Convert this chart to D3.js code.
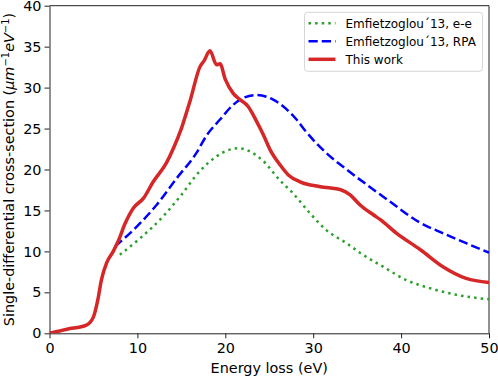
<!DOCTYPE html>
<html lang="en">

<head>
    <meta charset="UTF-8">
    <title>cross-section</title>
    <script src="https://cdn.jsdelivr.net/npm/d3@7"></script>
    <style>
        body {
            margin: 0;
            background: #fff;
        }

        text {
            font-family: "DejaVu Sans", sans-serif;
            fill: #000;
        }

        .tick text {
            font-size: 14.4px;
        }

        .domain,
        .tick line {
            stroke: #222;
        }
    </style>
</head>

<body>
    <div id="chart"></div>
</body>

<script>
    // Emfietzoglou'13, e-e (green dotted)
    let eeX = [8.0, 10.3, 12.95, 14.85, 17.1, 19.0, 20.2, 21.5, 22.6, 24.25, 26.2, 27.7, 29.6, 31.5, 33.8, 35.5, 38.0, 40.6, 43.3, 46.3, 50];
    let eeY = [9.6, 11.6, 14.3, 16.7, 19.8, 21.6, 22.3, 22.6, 22.3, 21.1, 18.7, 17.1, 14.7, 12.6, 11.0, 9.7, 8.1, 6.5, 5.5, 4.7, 4.15];

    // Emfietzoglou'13, RPA (blue dashed)
    let rpaX = [7.45, 9.9, 12.2, 14.45, 16.7, 17.9, 19.4, 20.9, 22.2, 23.6, 25.5, 28.1, 29.2, 31.5, 33.8, 36.4, 38.7, 42.0, 44.8, 47.4, 50];
    let rpaY = [10.6, 13.0, 15.7, 18.9, 22.0, 24.2, 26.1, 27.9, 28.8, 29.1, 28.5, 26.1, 24.6, 22.0, 20.0, 17.9, 16.1, 13.6, 12.2, 11.0, 9.85];

    // This work (red)
    let workX = [0, 2, 4.2, 5.0, 5.5, 5.9, 6.5, 7.25, 7.8, 8.6, 9.55, 10.7, 11.8, 13.3, 14.1, 15.0, 16.0, 17.1, 17.6, 18.25, 19.0, 19.4, 20.0, 20.9, 21.6, 22.6, 23.5, 24.3, 25.1, 26.2, 27.2, 28.5, 30.8, 33.2, 34.2, 35.3, 36.8, 37.6, 39.5, 42.2, 44.8, 47.4, 50];
    let workY = [0, 0.5, 1.0, 2.0, 4.1, 6.5, 8.6, 10, 11.2, 13.4, 15.3, 16.5, 18.5, 20.8, 22.6, 25.0, 28.4, 32.5, 33.3, 34.5, 32.8, 32.9, 31.0, 29.3, 28.6, 27.7, 26.0, 24.3, 22.4, 20.6, 19.3, 18.5, 17.9, 17.5, 16.9, 15.7, 14.5, 13.9, 12.2, 10.2, 8.1, 6.7, 6.2];

    let xTicks = [0, 10, 20, 30, 40, 50];
    let yTicks = [0, 5, 10, 15, 20, 25, 30, 35, 40];

    let legendLabels = ["Emfietzoglou\u00b413, e-e", "Emfietzoglou\u00b413, RPA", "This work"];

    let draw = () => {
        let svg = d3.select("#chart").append("svg")
            .attr("width", 498)
            .attr("height", 377);

        // 畫布邊界
        let padding = { top: 5.7, left: 49.5, bottom: 43.7, right: 9 };
        let width = 498 - padding.left - padding.right;
        let height = 377 - padding.top - padding.bottom;

        let focus = svg.append("g")
            .attr("transform", "translate(" + padding.left + "," + padding.top + ")");

        focus.append("defs").append("clipPath")
            .attr("id", "clip")
            .append("rect")
            .attr("width", width)
            .attr("height", height);

        let x = d3.scaleLinear().domain([0, 50]).range([0, width]);
        let y = d3.scaleLinear().domain([0, 40]).range([height, 0]);

        // axes
        focus.append("g")
            .attr("transform", "translate(0," + height + ")")
            .call(d3.axisBottom(x).tickValues(xTicks).tickSize(5).tickPadding(4).tickSizeOuter(0));
        focus.append("g")
            .call(d3.axisLeft(y).tickValues(yTicks).tickSize(5).tickPadding(3).tickSizeOuter(0));
        // top / right frame
        focus.append("path")
            .attr("d", "M0,0H" + width + "V" + height)
            .attr("fill", "none")
            .attr("stroke", "#222");

        // lines
        let toPts = (xs, ys) => xs.map((d, i) => [d, ys[i]]);
        let line = d3.line().curve(d3.curveMonotoneX)
            .x(d => x(d[0]))
            .y(d => y(d[1]));

        let series = [
            { pts: toPts(eeX, eeY), color: "#2ca02c", w: 2.5, dash: "2.5,4.1" },
            { pts: toPts(rpaX, rpaY), color: "#0000ff", w: 2.5, dash: "9.25,4" },
            { pts: toPts(workX, workY), color: "#d62728", w: 3.5, dash: null }
        ];

        series.forEach(s => {
            focus.append("path")
                .attr("d", line(s.pts))
                .attr("clip-path", "url(#clip)")
                .attr("fill", "none")
                .attr("stroke", s.color)
                .attr("stroke-width", s.w)
                .attr("stroke-dasharray", s.dash);
        });

        // legend
        let lg = svg.append("g").attr("transform", "translate(304.5,12.3)");
        lg.append("rect")
            .attr("width", 178)
            .attr("height", 59)
            .attr("rx", 3)
            .attr("fill", "rgba(255,255,255,0.8)")
            .attr("stroke", "#d6d6d6");
        series.forEach((s, i) => {
            let cy = 11 + i * 18;
            lg.append("line")
                .attr("x1", 4).attr("x2", 31)
                .attr("y1", cy).attr("y2", cy)
                .attr("stroke", s.color)
                .attr("stroke-width", s.w)
                .attr("stroke-dasharray", s.dash);
            lg.append("text")
                .attr("x", 41)
                .attr("y", cy + 4.4)
                .style("font-size", "12px")
                .text(legendLabels[i]);
        });

        // axis labels
        svg.append("text")
            .attr("x", padding.left + width / 2)
            .attr("y", 372.5)
            .attr("text-anchor", "middle")
            .style("font-size", "14.4px")
            .text("Energy loss (eV)");

        let yl = svg.append("text")
            .attr("transform", "translate(14," + (padding.top + height / 2) + ") rotate(-90)")
            .attr("text-anchor", "middle")
            .style("font-size", "14.4px");
        yl.append("tspan").text("Single-differential cross-section (");
        yl.append("tspan").style("font-style", "italic").text("\u03bcm");
        yl.append("tspan").attr("dy", -5).style("font-size", "10px").text("\u22121");
        yl.append("tspan").attr("dy", 5).style("font-style", "italic").text("eV");
        yl.append("tspan").attr("dy", -5).style("font-size", "10px").text("\u22121");
        yl.append("tspan").attr("dy", 5).text(")");
    }

    draw();
</script>

</html>
